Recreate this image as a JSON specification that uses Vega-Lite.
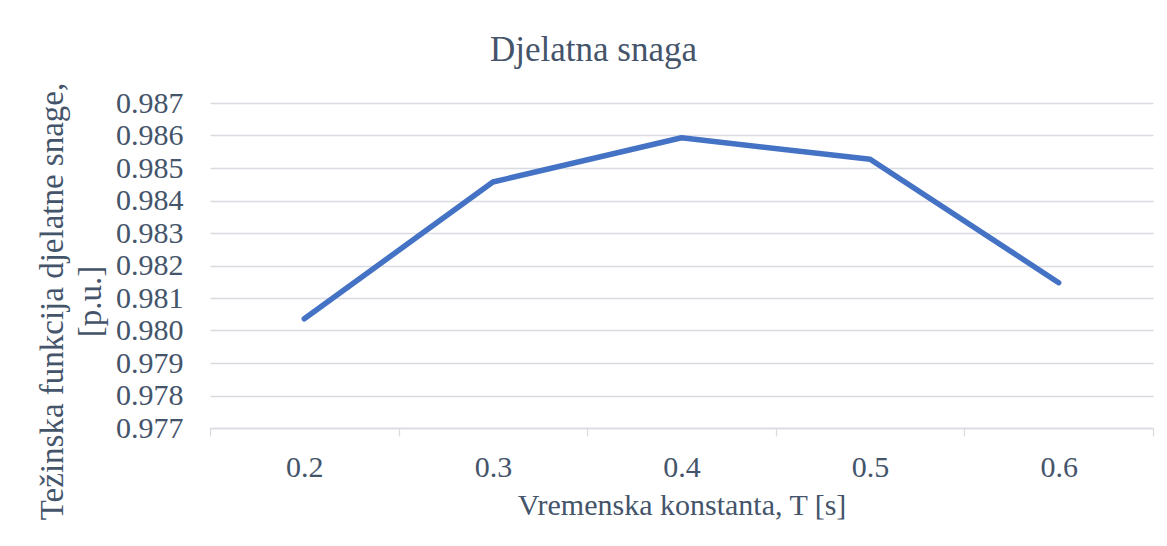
{
  "$schema": "https://vega.github.io/schema/vega-lite/v6.json",
  "width": 943,
  "height": 325,
  "autosize": {"type": "none"},
  "padding": {"left": 210, "top": 103, "right": 14, "bottom": 118},
  "background": "white",
  "title": {
    "text": "Djelatna snaga",
    "fontSize": 35,
    "font": "Liberation Serif",
    "fontWeight": "normal",
    "color": "#44546A",
    "anchor": "middle",
    "dx": -88,
    "offset": -14,
    "baseline": "alphabetic"
  },
  "data": {
    "values": [
      {"T": "0.2", "F": 0.98036},
      {"T": "0.3", "F": 0.98457},
      {"T": "0.4", "F": 0.98593},
      {"T": "0.5", "F": 0.98527},
      {"T": "0.6", "F": 0.98147}
    ]
  },
  "mark": {"type": "line", "color": "#4472C4", "strokeWidth": 5.5, "strokeCap": "round", "strokeJoin": "round"},
  "encoding": {
    "x": {
      "field": "T",
      "type": "ordinal",
      "scale": {"type": "band", "paddingInner": 0, "paddingOuter": 0},
      "bandPosition": 0.5,
      "axis": {
        "title": "Vremenska konstanta, T [s]",
        "labelAngle": 0,
        "tickBand": "extent",
        "grid": false,
        "ticks": true,
        "tickSize": 8,
        "tickColor": "#D9DCE1",
        "tickWidth": 1.3,
        "domainColor": "#D9DCE1",
        "domainWidth": 1.3,
        "labelPadding": 16,
        "titlePadding": 8
      }
    },
    "y": {
      "field": "F",
      "type": "quantitative",
      "scale": {"domain": [0.977, 0.987], "nice": false, "zero": false},
      "axis": {
        "title": ["Težinska funkcija djelatne snage,", "[p.u.]"],
        "values": [0.977, 0.978, 0.979, 0.98, 0.981, 0.982, 0.983, 0.984, 0.985, 0.986, 0.987],
        "format": ".3f",
        "domain": false,
        "ticks": false,
        "grid": true,
        "gridColor": "#D9DCE1",
        "gridWidth": 1.3,
        "labelPadding": 27,
        "titlePadding": 8,
        "titleFontSize": 33,
        "titleY": 198,
        "titleLineHeight": 38
      }
    }
  },
  "config": {
    "view": {"stroke": null},
    "axis": {
      "labelFont": "Liberation Serif",
      "titleFont": "Liberation Serif",
      "labelFontSize": 30,
      "titleFontSize": 30,
      "titleFontWeight": "normal",
      "labelColor": "#44546A",
      "titleColor": "#44546A"
    }
  }
}
